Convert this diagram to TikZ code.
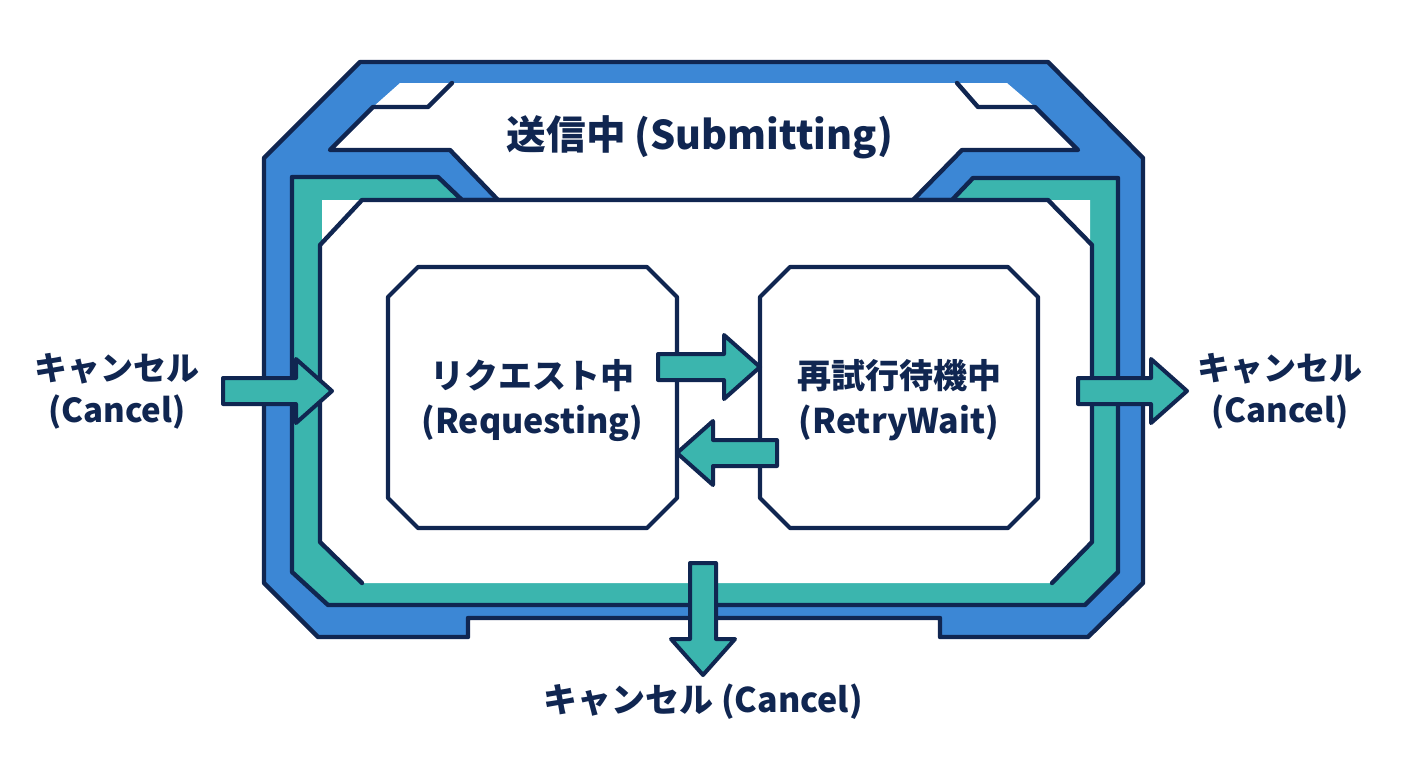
\documentclass[tikz,border=0pt]{standalone}
\usepackage{fontspec}
\setmainfont{Noto Sans CJK JP}
\usetikzlibrary{positioning,calc}
\definecolor{stInk}{HTML}{102651}
\definecolor{stBlue}{HTML}{3C87D5}
\definecolor{stTeal}{HTML}{3BB5AE}
\tikzset{
  outline/.style={
    draw=stInk,
    line width=2.2pt,
    line join=round
  },
  blueBand/.style={
    outline,
    fill=stBlue
  },
  tealBand/.style={
    outline,
    fill=stTeal
  },
  inkLine/.style={
    draw=stInk,
    line width=2.2pt,
    line cap=round,
    line join=round
  },
  stateBox/.style={
    rectangle,
    inner sep=0pt,
    outer sep=0pt,
    align=center,
    text=stInk,
    font=\bfseries\fontsize{17}{22.5}\selectfont,
    minimum height=130.5pt
  },
  stateEdge/.style={
    draw=stInk,
    fill=white,
    line width=2.1pt,
    line join=round
  },
  titleText/.style={
    text=stInk,
    font=\bfseries\fontsize{19.8}{24}\selectfont
  },
  cancelText/.style={
    align=center,
    inner sep=0pt,
    text=stInk,
    font=\bfseries\fontsize{16.5}{21}\selectfont
  },
  flowArrow/.style={
    draw=stInk,
    fill=stTeal,
    line width=2pt,
    line join=round
  }
}
% chamfered outline round a state node
\newcommand\chamferBox[1]{%
  \path[stateEdge] ([xshift=15pt]#1.north west) -- ([xshift=-15pt]#1.north east)
    -- ([yshift=-15pt]#1.north east) -- ([yshift=15pt]#1.south east)
    -- ([xshift=-15pt]#1.south east) -- ([xshift=15pt]#1.south west)
    -- ([yshift=15pt]#1.south west) -- ([yshift=-15pt]#1.north west) -- cycle;
}
% block arrow from tail (#1) to tip (#2)
\newcommand\fatArrow[2]{%
  \coordinate (fa-k) at ($(#2)!18pt!(#1)$);
  \path[flowArrow] ($(#1)!6.5pt!90:(#2)$) -- ($(fa-k)!6.5pt!-90:(#1)$)
    -- ($(fa-k)!16pt!-90:(#1)$) -- (#2) -- ($(fa-k)!16pt!90:(#1)$)
    -- ($(fa-k)!6.5pt!90:(#1)$) -- ($(#1)!6.5pt!-90:(#2)$) -- cycle;
}

\begin{document}
\begin{tikzpicture}[x=0.5pt, y=-0.5pt]
  \useasboundingbox[fill=white] (0,0) rectangle (1408,768);

  % outer band (Submitting)
  \path[blueBand] (360,62) -- (1048,62) -- (1143,158) -- (1143,583) -- (1088,637)
    -- (940,637) -- (940,618) -- (468,618) -- (468,637) -- (318,637) -- (264,583)
    -- (264,158) -- cycle;
  \fill[white] (400,83) -- (1007,83) -- (1035,107) -- (1078,150) -- (962,150)
    -- (913,200) -- (498,200) -- (450,150) -- (330,150) -- (373,107) -- cycle;
  \draw[inkLine] (452,83) -- (428,107) -- (373,107) -- (330,150) -- (450,150) -- (498,200);
  \draw[inkLine] (957,83) -- (978,107) -- (1035,107) -- (1078,150) -- (962,150) -- (913,200);

  % teal band
  \path[tealBand] (292,177) -- (438,177) -- (462,200) -- (952,200) -- (973,178)
    -- (1118,178) -- (1118,572) -- (1085,605) -- (328,605) -- (292,572) -- cycle;
  \fill[white] (322,200) -- (1090,200) -- (1090,542) -- (1050,583) -- (362,583)
    -- (322,542) -- cycle;
  \draw[inkLine] (362,583) -- (320,542) -- (320,245) -- (362,200) -- (1048,200)
    -- (1092,245) -- (1092,542) -- (1052,583);

  \node[titleText] (submitting) at (700,137) {送信中 (Submitting)};

  % states
  \node[stateBox, minimum width=144.5pt] (req) at (532.5,397.5) {};
  \node[stateBox, minimum width=139pt, right=41.5pt of req] (retry) {};
  \chamferBox{req}
  \chamferBox{retry}
  \node[stateBox] (reqText) at ($(req.center)+(0,3)$) {リクエスト中\\(Requesting)};
  \node[stateBox] (retryText) at ($(retry.center)+(0,3)$) {再試行待機中\\(RetryWait)};

  \coordinate (reqOut) at ($(req.east)+(-19,-30.5)$);
  \coordinate (retryIn) at (retry.west |- reqOut);
  \fatArrow{reqOut}{retryIn}
  \coordinate (retryOut) at ($(retry.west)+(17,55.5)$);
  \coordinate (reqIn) at (req.east |- retryOut);
  \fatArrow{retryOut}{reqIn}

  % cancel
  \coordinate (cancelWtail) at (223,391);
  \coordinate (frameW) at (332,391);
  \fatArrow{cancelWtail}{frameW}
  \node[cancelText, left=11.5pt of cancelWtail] (cancelW) {キャンセル\\(Cancel)};

  \coordinate (frameE) at (1078,391);
  \coordinate (cancelEtip) at (1187,391);
  \fatArrow{frameE}{cancelEtip}
  \node[cancelText, right=5pt of cancelEtip] (cancelE) {キャンセル\\(Cancel)};

  \coordinate (frameS) at (703,563);
  \coordinate (cancelStip) at (703,675);
  \fatArrow{frameS}{cancelStip}
  \node[cancelText, font=\bfseries\fontsize{17}{21}\selectfont, below=4pt of cancelStip] (cancelS) {キャンセル (Cancel)};
\end{tikzpicture}
\end{document}
